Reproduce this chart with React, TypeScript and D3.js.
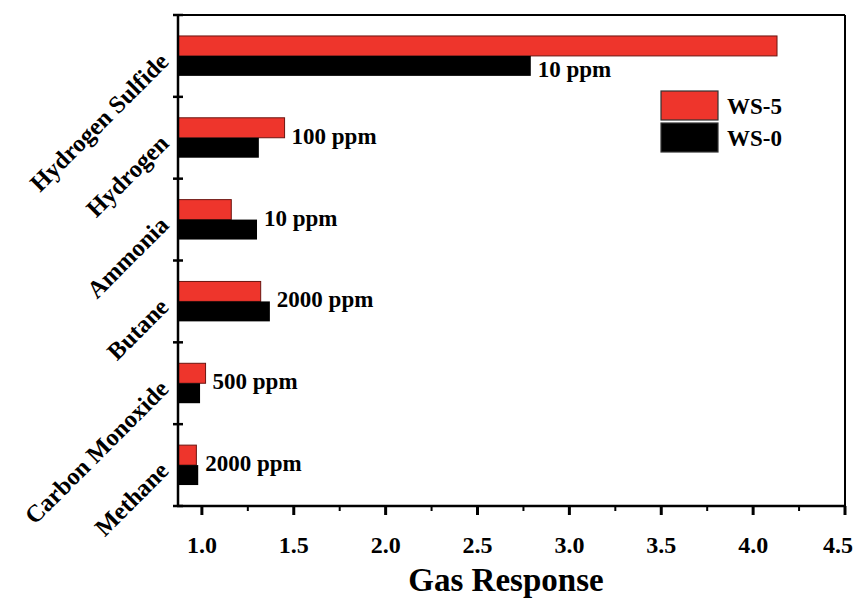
import React, { useEffect, useRef } from "react";
import * as d3 from "d3";

const width = 855;
const height = 598;

// data
const gases = ["Hydrogen Sulfide", "Hydrogen", "Ammonia", "Butane", "Carbon Monoxide", "Methane"];
const ws5 = [4.13, 1.45, 1.16, 1.32, 1.02, 0.97];
const ws0 = [2.79, 1.31, 1.30, 1.37, 0.99, 0.98];
const concentrations = ["10 ppm", "100 ppm", "10 ppm", "2000 ppm", "500 ppm", "2000 ppm"];
const seriesNames = ["WS-5", "WS-0"];
const xTicks = [1.0, 1.5, 2.0, 2.5, 3.0, 3.5, 4.0, 4.5];
const xMinorTicks = [1.25, 1.75, 2.25, 2.75, 3.25, 3.75, 4.25];

const colors = { "WS-5": "#ee352c", "WS-0": "#000000" };
const font = "'Liberation Serif', 'Times New Roman', serif";

export default function App() {
  const ref = useRef<SVGSVGElement>(null);

  useEffect(() => {
    const svg = d3.select(ref.current);
    svg.selectAll("*").remove();

    const left = 178, right = 845, top = 15, bottom = 506;

    const x = d3.scaleLinear().domain([0.87, 4.5]).range([left, right]);
    const y = d3.scaleBand().domain(gases).range([top, bottom]);
    const ySub = d3.scaleBand().domain(seriesNames).range([0, y.bandwidth()]).paddingOuter(1.05);

    const rows = gases.map((g, i) => ({ gas: g, "WS-5": ws5[i], "WS-0": ws0[i], conc: concentrations[i] }));

    // bars
    const g = svg.append("g");
    rows.forEach((r) => {
      seriesNames.forEach((s) => {
        g.append("rect")
          .attr("x", x.range()[0])
          .attr("y", y(r.gas)! + ySub(s)!)
          .attr("width", x(r[s]) - x.range()[0])
          .attr("height", ySub.bandwidth())
          .attr("fill", colors[s])
          .attr("stroke", s === "WS-5" ? "#6b1510" : "none")
          .attr("stroke-width", 1);
      });
    });

    // concentration labels
    rows.forEach((r) => {
      const red = r["WS-5"], black = r["WS-0"];
      // when the red bar runs far past the black one, the label sits beside the black bar
      const besideBlack = red - black > 0.5;
      const lx = x(besideBlack ? black : Math.max(red, black)) + 7;
      const ly = besideBlack
        ? y(r.gas)! + ySub("WS-0")! + ySub.bandwidth() / 2 + 3
        : y(r.gas)! + y.bandwidth() / 2 - 2;
      svg.append("text")
        .attr("x", lx)
        .attr("y", ly)
        .attr("dy", "0.35em")
        .attr("font-family", font)
        .attr("font-weight", "bold")
        .attr("font-size", 23)
        .text(r.conc);
    });

    // frame
    svg.append("line").attr("x1", left).attr("x2", right).attr("y1", top).attr("y2", top)
      .attr("stroke", "#000").attr("stroke-width", 2);
    svg.append("line").attr("x1", right).attr("x2", right).attr("y1", top).attr("y2", bottom)
      .attr("stroke", "#000").attr("stroke-width", 2);
    svg.append("line").attr("x1", left).attr("x2", left).attr("y1", top - 1).attr("y2", bottom + 1)
      .attr("stroke", "#000").attr("stroke-width", 2.5);
    svg.append("line").attr("x1", left - 1).attr("x2", right + 1).attr("y1", bottom).attr("y2", bottom)
      .attr("stroke", "#000").attr("stroke-width", 2.5);

    // x ticks
    svg.selectAll(".xmajor").data(xTicks).enter().append("line")
      .attr("x1", (d) => x(d)).attr("x2", (d) => x(d))
      .attr("y1", bottom).attr("y2", bottom + 9)
      .attr("stroke", "#000").attr("stroke-width", 3);
    svg.selectAll(".xminor").data(xMinorTicks).enter().append("line")
      .attr("x1", (d) => x(d)).attr("x2", (d) => x(d))
      .attr("y1", bottom).attr("y2", bottom + 5)
      .attr("stroke", "#000").attr("stroke-width", 2);
    svg.selectAll(".xlabel").data(xTicks).enter().append("text")
      .attr("x", (d) => Math.min(x(d), width - 17)).attr("y", bottom + 47)
      .attr("text-anchor", "middle")
      .attr("font-family", font).attr("font-weight", "bold").attr("font-size", 24)
      .text((d) => d.toFixed(1));

    // y ticks at category boundaries
    const bounds = gases.map((gg) => y(gg)!).concat([bottom]);
    svg.selectAll(".ytick").data(bounds).enter().append("line")
      .attr("x1", left - 5).attr("x2", left + 5)
      .attr("y1", (d) => d).attr("y2", (d) => d)
      .attr("stroke", "#000").attr("stroke-width", 2.5);

    // y labels
    svg.selectAll(".ylabel").data(gases).enter().append("text")
      .attr("transform", (d) => `translate(${left - 14},${y(d)! + y.bandwidth() / 2 + 1}) rotate(-45)`)
      .attr("text-anchor", "end")
      .attr("dy", "0.35em")
      .attr("font-family", font).attr("font-weight", "bold").attr("font-size", 24.5)
      .text((d) => d);

    // x title
    svg.append("text")
      .attr("x", 506).attr("y", 591)
      .attr("text-anchor", "middle")
      .attr("font-family", font).attr("font-weight", "bold").attr("font-size", 33)
      .text("Gas Response");

    // legend
    const legend = svg.append("g").attr("transform", "translate(661,91)");
    seriesNames.forEach((s, i) => {
      legend.append("rect")
        .attr("x", 0).attr("y", i * 32)
        .attr("width", 57).attr("height", 29)
        .attr("fill", colors[s])
        .attr("stroke", "#333").attr("stroke-width", 1.2);
      legend.append("text")
        .attr("x", 66).attr("y", i * 32 + 15)
        .attr("dy", "0.35em")
        .attr("font-family", font).attr("font-weight", "bold").attr("font-size", 23)
        .text(s);
    });
  }, []);

  return (
    <svg
      ref={ref}
      width={width}
      height={height}
      style={{ position: "absolute", left: 0, top: 0, background: "#fff" }}
    />
  );
}
